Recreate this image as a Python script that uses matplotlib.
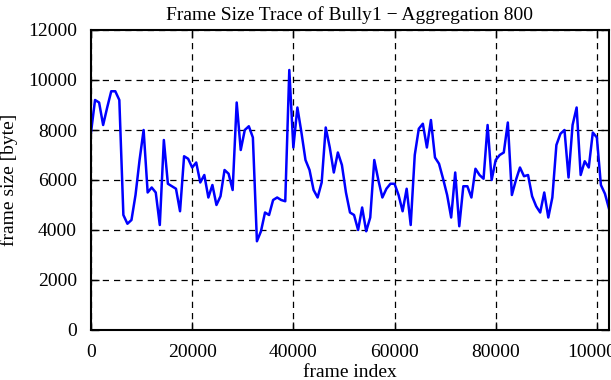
import numpy as np
import matplotlib
matplotlib.use("Agg")
import matplotlib.pyplot as plt

# frame size trace, one value per 800 frames
step = 800
frame_size = [
    7900, 9200, 9100, 8200, 8900, 9550, 9550, 9200, 4600, 4250,
    4400, 5400, 6800, 8000, 5500, 5700, 5500, 4200, 7600, 5850,
    5750, 5650, 4750, 6950, 6850,
    6500, 6700, 5900, 6200, 5300, 5800, 5000, 5350, 6400, 6250,
    5600, 9100, 7200, 8000, 8150, 7700, 3550, 3950, 4700, 4600,
    5200, 5300, 5200, 5150, 10400,
    7300, 8900, 7900, 6800, 6400, 5600, 5300, 5900, 8100, 7300,
    6300, 7100, 6600, 5500, 4700, 4600, 4000, 4900, 3950, 4500,
    6800, 6000, 5300, 5650, 5850,
    5850, 5400, 4750, 5650, 4200, 7000, 8050, 8250, 7300, 8400,
    6900, 6650, 6050, 5400, 4500, 6300, 4150, 5750, 5750, 5300,
    6450, 6200, 6050, 8200, 6000,
    6800, 7000, 7100, 8300, 5400, 6000, 6500, 6150, 6200, 5350,
    4950, 4700, 5500, 4500, 5300, 7400, 7850, 8000, 6100, 8200,
    8900, 6200, 6750, 6500, 7900, 7700, 5800, 5450, 4850,
]
frame_index = np.arange(len(frame_size)) * step

x_ticks = [0, 20000, 40000, 60000, 80000, 100000]
y_ticks = [0, 2000, 4000, 6000, 8000, 10000, 12000]

plt.rcParams["font.family"] = ["Liberation Serif", "DejaVu Serif"]
plt.rcParams["font.size"] = 14

fig = plt.figure(figsize=(6.11, 3.80), dpi=100)
ax = fig.add_axes([91 / 611, 50 / 380, 518 / 611, 300 / 380])

ax.plot(frame_index, frame_size, color="#0000ff", lw=1.8)

ax.set_xlim(0, frame_index[-1])
ax.set_ylim(0, 12000)
ax.set_xticks(x_ticks)
ax.set_yticks(y_ticks)
ax.tick_params(direction="in", length=6, width=1, top=True, right=True, pad=10)
ax.tick_params(axis="x", pad=10)
ax.grid(True, color="black", ls=(0, (5, 4)), lw=0.9)
for s in ax.spines.values():
    s.set_linewidth(1.5)

ax.set_title("Frame Size Trace of Bully1 \u2212 Aggregation 800", fontsize=14, pad=7)
ax.set_xlabel("frame index", labelpad=2)
ax.set_ylabel("frame size [byte]", labelpad=7)

fig.savefig("out.png", dpi=100)
